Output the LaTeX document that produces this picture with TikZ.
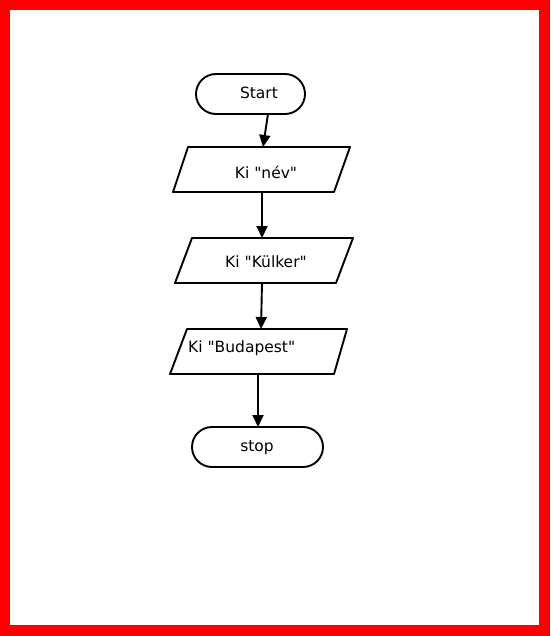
\documentclass[tikz,border=0pt]{standalone}
\usepackage{fontspec}
\setmainfont[Ligatures=TeXOff]{DejaVu Sans}
\usetikzlibrary{arrows.meta}
\begin{document}
\begin{tikzpicture}[x=1pt,y=-1pt,
  shp/.style={draw=black,line width=1.9pt,line join=round},
  lbl/.style={font=\fontsize{15.5}{18}\selectfont,inner sep=0pt},
  conn/.style={draw=black,line width=1.9pt,-{Triangle[length=12pt,width=11pt]}}]
\useasboundingbox (0,0) rectangle (550,636);
\fill[red] (0,0) rectangle (550,636);
\fill[white] (10,10) rectangle (539,625);
% shapes
\draw[shp,rounded corners=20pt] (196,74) rectangle (305,114);
\draw[shp] (188,147) -- (350,147) -- (334,192) -- (173,192) -- cycle;
\draw[shp] (192,238) -- (353,238) -- (336,283) -- (175,283) -- cycle;
\draw[shp] (187,329) -- (347,329) -- (334,374) -- (170,374) -- cycle;
\draw[shp,rounded corners=20pt] (192,427) rectangle (323,467);
% labels
\node[lbl] (start) at (259,93) {Start};
\node[lbl] (nev) at (266,172) {Ki "név"};
\node[lbl] (kulker) at (266,262) {Ki "Külker"};
\node[lbl,anchor=west] (budapest) at (188,348) {Ki "Budapest"};
\node[lbl] (stop) at (257,448) {stop};
% connector ends
\coordinate (s1) at (268,114);
\coordinate (p1t) at (263,147);
\coordinate (p1b) at (262,192);
\coordinate (p2t) at (262,238);
\coordinate (p2b) at (262,283);
\coordinate (p3t) at (261,329);
\coordinate (p3b) at (258,374);
\coordinate (stt) at (258,427);
\draw[conn] (s1) -- (p1t);
\draw[conn] (p1b) -- (p2t);
\draw[conn] (p2b) -- (p3t);
\draw[conn] (p3b) -- (stt);
\end{tikzpicture}
\end{document}
